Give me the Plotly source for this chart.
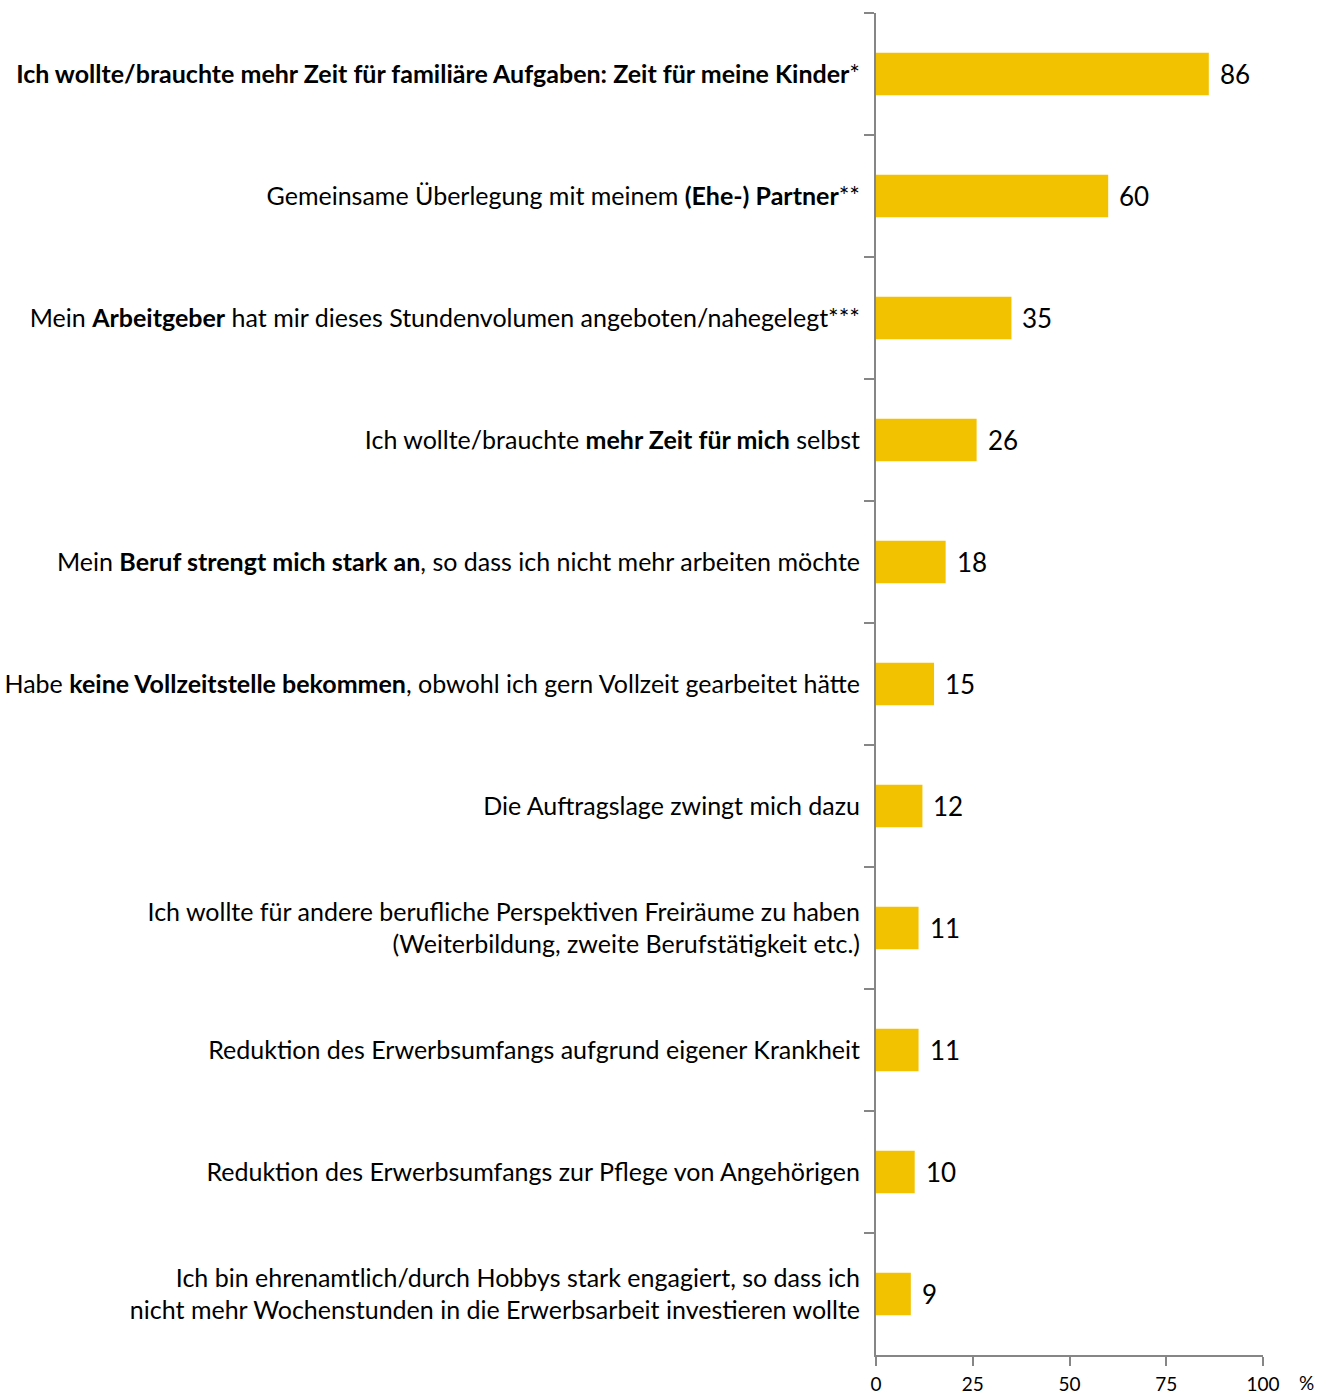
import plotly.graph_objects as go

# Reasons for reduced working hours (share of respondents, %)
labels = [
    "<b>Ich wollte/brauchte mehr Zeit für familiäre Aufgaben: Zeit für meine Kinder</b>*",
    "Gemeinsame Überlegung mit meinem <b>(Ehe-) Partner</b>**",
    "Mein <b>Arbeitgeber</b> hat mir dieses Stundenvolumen angeboten/nahegelegt***",
    "Ich wollte/brauchte <b>mehr Zeit für mich</b> selbst",
    "Mein <b>Beruf strengt mich stark an</b>, so dass ich nicht mehr arbeiten möchte",
    "Habe <b>keine Vollzeitstelle bekommen</b>, obwohl ich gern Vollzeit gearbeitet hätte",
    "Die Auftragslage zwingt mich dazu",
    "Ich wollte für andere berufliche Perspektiven Freiräume zu haben<br>(Weiterbildung, zweite Berufstätigkeit etc.)",
    "Reduktion des Erwerbsumfangs aufgrund eigener Krankheit",
    "Reduktion des Erwerbsumfangs zur Pflege von Angehörigen",
    "Ich bin ehrenamtlich/durch Hobbys stark engagiert, so dass ich<br>nicht mehr Wochenstunden in die Erwerbsarbeit investieren wollte",
]
values = [86, 60, 35, 26, 18, 15, 12, 11, 11, 10, 9]
x_ticks = [0, 25, 50, 75, 100]

FONT = "Lato"
AXIS_COLOR = "#868686"
BAR_COLOR = "#F2C200"

fig = go.Figure()
fig.add_trace(go.Bar(
    x=values,
    y=labels,
    orientation="h",
    width=0.35,
    marker=dict(color=BAR_COLOR, line=dict(width=0)),
    hoverinfo="skip",
))

# value labels to the right of each bar
for lab, v in zip(labels, values):
    fig.add_annotation(
        x=v, y=lab, text=str(v), showarrow=False,
        xanchor="left", yanchor="middle", xshift=9,
        font=dict(family=FONT, size=26, color="#000000"),
    )

# unit label next to the x axis
fig.add_annotation(
    xref="paper", yref="paper", x=1.0, y=0, text="%",
    showarrow=False, xanchor="left", yanchor="top",
    xshift=34, yshift=-14,
    font=dict(family=FONT, size=19, color="#000000"),
)

fig.update_layout(
    width=1332, height=1394,
    margin=dict(l=876, r=69, t=13, b=39),
    paper_bgcolor="white", plot_bgcolor="white",
    showlegend=False,
    font=dict(family=FONT, color="#000000"),
)
fig.update_xaxes(
    range=[0, 100], tickvals=x_ticks, ticktext=[str(t) for t in x_ticks],
    showgrid=False, zeroline=False, automargin=False,
    showline=True, linecolor=AXIS_COLOR, linewidth=2,
    ticks="outside", ticklen=9, tickwidth=2, tickcolor=AXIS_COLOR,
    ticklabelstandoff=2,
    tickfont=dict(family=FONT, size=19, color="#000000"),
    fixedrange=True,
)
fig.update_yaxes(
    type="category", categoryorder="array", categoryarray=labels,
    autorange="reversed",
    tickson="boundaries", automargin=False,
    showgrid=False, zeroline=False,
    showline=True, linecolor=AXIS_COLOR, linewidth=2,
    ticks="outside", ticklen=10, tickwidth=2, tickcolor=AXIS_COLOR,
    ticklabelstandoff=9,
    tickfont=dict(family=FONT, size=25, color="#000000"),
    fixedrange=True,
)

fig.write_html("out.html")
